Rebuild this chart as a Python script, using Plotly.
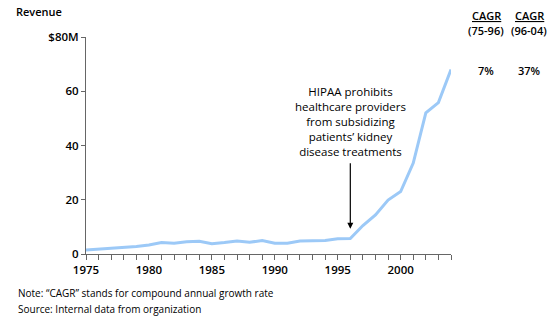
import plotly.graph_objects as go

years = list(range(1975, 2005))
revenue = [1.5, 1.8, 2.1, 2.5, 2.8, 3.3, 4.2, 4.0, 4.5, 4.7, 3.8, 4.2, 4.8, 4.3, 5.0,
           4.0, 4.0, 4.8, 4.8, 5.0, 5.6, 5.7, 10.5, 14.4, 19.9, 23.0, 33.5, 52.0, 55.8, 68.0]
x_ticks = list(range(1975, 2005))
x_tick_labels = [str(y) if y % 5 == 0 else "" for y in x_ticks]
y_ticks = [0, 20, 40, 60, 80]
y_tick_labels = ["0", "20", "40", "60", "$80M"]
cagr_headers = ["CAGR", "CAGR"]
cagr_periods = ["(75-96)", "(96-04)"]
cagr_values = ["7%", "37%"]
event_year = 1996
event_text = "HIPAA prohibits<br>healthcare providers<br>from subsidizing<br>patients\u2019 kidney<br>disease treatments"

FONT = "Open Sans"
L, R, T, B, W, H = 86, 109, 37, 67, 560, 321


def px(xp, yp):
    return (xp - L) / (W - L - R), 1 - (yp - T) / (H - T - B)


fig = go.Figure()
fig.add_trace(go.Scatter(x=years, y=revenue, mode="lines",
                         line=dict(color="#9cc9f7", width=3), hoverinfo="skip"))

axis_col = "#666666"
tick_font = dict(family=FONT, size=11.5, weight=600, color="black")
fig.update_layout(
    width=W, height=H,
    margin=dict(l=L, r=R, t=T, b=B),
    paper_bgcolor="white", plot_bgcolor="white",
    showlegend=False,
    font=dict(family=FONT, size=11, color="black"),
    xaxis=dict(range=[1975, 2004], tickvals=x_ticks, ticktext=x_tick_labels,
               showgrid=False, zeroline=False, showline=True, linecolor=axis_col,
               linewidth=1, ticks="outside", ticklen=5, tickcolor=axis_col,
               tickfont=tick_font, fixedrange=True),
    yaxis=dict(range=[0, 80], tickvals=y_ticks, ticktext=y_tick_labels,
               showgrid=False, zeroline=False, showline=True, linecolor=axis_col,
               linewidth=1, ticks="outside", ticklen=4, tickcolor=axis_col,
               tickfont=tick_font, fixedrange=True),
)

fig.add_annotation(x=event_year, y=9.3, ax=event_year, ay=34, axref="x", ayref="y",
                   xref="x", yref="y", text="", showarrow=True,
                   arrowhead=2, arrowsize=1, arrowwidth=1.2, arrowcolor="black")
fig.add_annotation(x=event_year, y=49, xref="x", yref="y", text=event_text,
                   showarrow=False, align="center", yanchor="middle",
                   font=dict(family=FONT, size=11.5, color="black"))

rx, ry = px(14, 11)
fig.add_annotation(x=rx, y=ry, xref="paper", yref="paper", text="Revenue",
                   showarrow=False, xanchor="left", yanchor="middle",
                   font=dict(family=FONT, size=11, weight=600))

for xpix, head, per, val in zip([486, 529], cagr_headers, cagr_periods, cagr_values):
    xs, y1 = px(xpix, 15)
    _, y2 = px(xpix, 31)
    _, yv = px(xpix, 70)
    fig.add_annotation(x=xs, y=y1, xref="paper", yref="paper", text=f"<u>{head}</u>",
                       showarrow=False, xanchor="center", yanchor="middle",
                       font=dict(family=FONT, size=11, weight=600))
    fig.add_annotation(x=xs, y=y2, xref="paper", yref="paper", text=per,
                       showarrow=False, xanchor="center", yanchor="middle",
                       font=dict(family=FONT, size=11, weight=600))
    fig.add_annotation(x=xs, y=yv, xref="paper", yref="paper", text=val,
                       showarrow=False, xanchor="center", yanchor="middle",
                       font=dict(family=FONT, size=11, weight=600))

for txt, ypix in [("Note: \u201cCAGR\u201d stands for compound annual growth rate", 293),
                  ("Source: Internal data from organization", 309)]:
    nx, ny = px(16, ypix)
    fig.add_annotation(x=nx, y=ny, xref="paper", yref="paper", text=txt,
                       showarrow=False, xanchor="left", yanchor="middle",
                       font=dict(family=FONT, size=10))

fig.write_html("out.html", config={"displayModeBar": False})
